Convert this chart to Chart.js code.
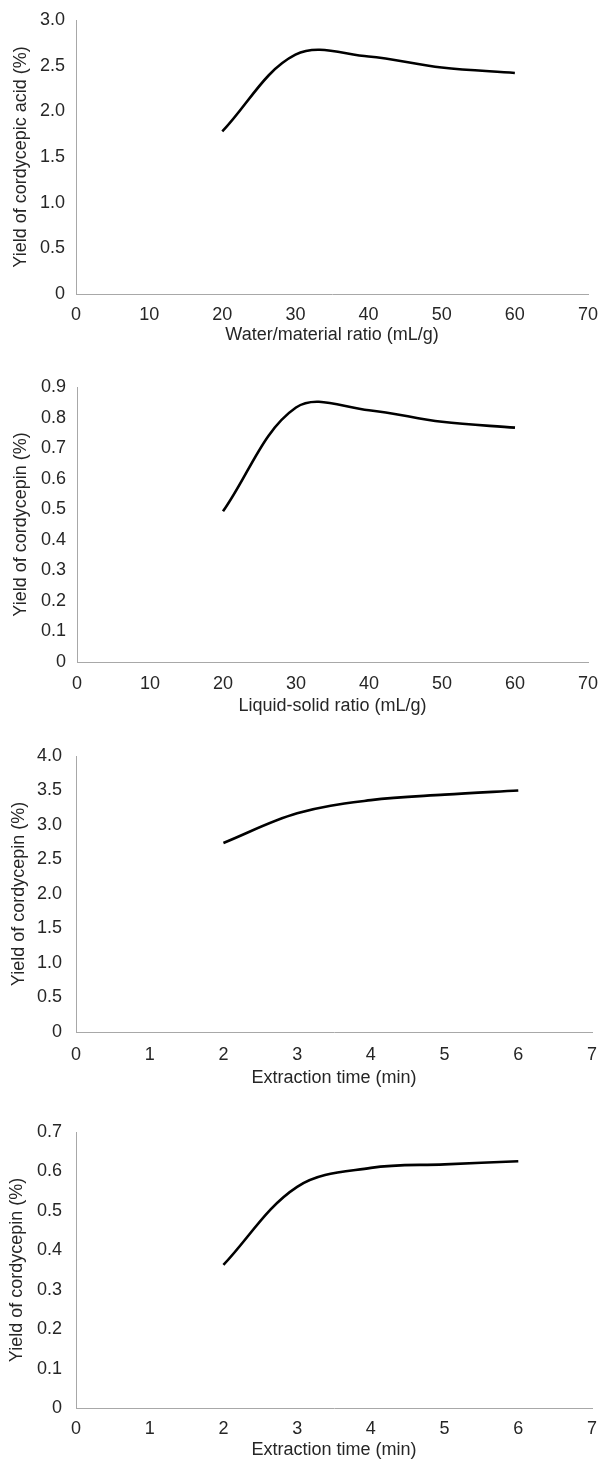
<!DOCTYPE html>
<html>
<head>
<meta charset="utf-8">
<script src="https://cdn.jsdelivr.net/npm/chart.js@4/dist/chart.umd.min.js"></script>
<style>
  html, body { margin: 0; padding: 0; background: #fff; }
  body { width: 600px; height: 1461px; position: relative; overflow: hidden; }
  .panel { position: absolute; left: 0; width: 600px; }
  .panel canvas { display: block; }
</style>
</head>
<body>
<div class="panel" id="p1"><canvas id="c1"></canvas></div>
<div class="panel" id="p2"><canvas id="c2"></canvas></div>
<div class="panel" id="p3"><canvas id="c3"></canvas></div>
<div class="panel" id="p4"><canvas id="c4"></canvas></div>
<script>
// Water (liquid) to material ratio, mL/g
const ratioLevels = [20, 30, 40, 50, 60];
// Extraction time, min
const timeLevels = [2, 3, 4, 5, 6];

// Yields (%)
const acidYieldByRatio = [1.78, 2.62, 2.60, 2.48, 2.42];
const cordycepinYieldByRatio = [0.493, 0.833, 0.824, 0.786, 0.767];
const cordycepinYieldByTimeA = [2.74, 3.17, 3.36, 3.44, 3.50];
const cordycepinYieldByTimeB = [0.363, 0.561, 0.609, 0.618, 0.626];

// Axis ranges and steps
const ratioAxis = { min: 0, max: 70, step: 10 };
const timeAxis = { min: 0, max: 7, step: 1 };
const acidAxis = { min: 0, max: 3.0, step: 0.5 };
const cordRatioAxis = { min: 0, max: 0.9, step: 0.1 };
const cordTimeAxisA = { min: 0, max: 4.0, step: 0.5 };
const cordTimeAxisB = { min: 0, max: 0.7, step: 0.1 };

// Axis titles
const xTitles = ['Water/material ratio (mL/g)', 'Liquid-solid ratio (mL/g)', 'Extraction time (min)', 'Extraction time (min)'];
const yTitles = ['Yield of cordycepic acid (%)', 'Yield of cordycepin (%)', 'Yield of cordycepin (%)', 'Yield of cordycepin (%)'];

const FONT = { family: '"Liberation Sans", Arial, Helvetica, sans-serif', size: 18 };
const TEXT = '#262626';
const AXIS = '#a8a8a8';

function fmtY(v) { return v === 0 ? '0' : v.toFixed(1); }

function build(panelId, canvasId, xs, ys, xr, yr, xTitle, yTitle, L) {
  const panel = document.getElementById(panelId);
  panel.style.top = L.top + 'px';
  panel.style.height = L.height + 'px';
  const cv = document.getElementById(canvasId);
  cv.width = 600; cv.height = L.height;
  cv.style.width = '600px'; cv.style.height = L.height + 'px';

  new Chart(cv, {
    type: 'line',
    data: {
      datasets: [{
        data: xs.map((x, i) => ({ x: x, y: ys[i] })),
        borderColor: '#000',
        borderWidth: 2.6,
        pointRadius: 0,
        tension: 0.36,
        fill: false,
        borderCapStyle: 'butt'
      }]
    },
    options: {
      responsive: false,
      animation: false,
      devicePixelRatio: 1,
      layout: { padding: { left: 0, right: 600 - L.right, top: L.areaTop, bottom: 0 } },
      plugins: { legend: { display: false }, tooltip: { enabled: false } },
      scales: {
        x: {
          type: 'linear',
          min: xr.min, max: xr.max,
          afterFit: s => {
            s.height = L.height - L.areaBottom;
            s.paddingLeft = 0; s.paddingRight = 0;
          },
          ticks: { stepSize: xr.step, font: FONT, color: TEXT, padding: L.xPad, maxRotation: 0, autoSkip: false },
          grid: { color: 'rgba(0,0,0,0)', drawTicks: false },
          border: { display: true, color: AXIS, width: 1 },
          title: { display: true, text: xTitle, font: FONT, color: TEXT, padding: { top: 0, bottom: L.xTitlePad } }
        },
        y: {
          type: 'linear',
          min: yr.min, max: yr.max,
          afterFit: s => {
            s.width = L.left;
            s.paddingTop = 0; s.paddingBottom = 0;
          },
          ticks: { stepSize: yr.step, font: FONT, color: TEXT, padding: L.yPad, callback: v => fmtY(v) },
          grid: { color: 'rgba(0,0,0,0)', drawTicks: false },
          border: { display: true, color: AXIS, width: 1 },
          title: { display: true, text: yTitle, font: FONT, color: TEXT, padding: { top: L.yTitlePad, bottom: 0 } }
        }
      }
    }
  });
}

build('p1', 'c1', ratioLevels, acidYieldByRatio, ratioAxis, acidAxis, xTitles[0], yTitles[0],
  { top: 0, height: 365, left: 76, right: 588, areaTop: 20, areaBottom: 294, xPad: 10, xTitlePad: 19, yPad: 11, yTitlePad: 10 });
build('p2', 'c2', ratioLevels, cordycepinYieldByRatio, ratioAxis, cordRatioAxis, xTitles[1], yTitles[1],
  { top: 365, height: 365, left: 77, right: 588, areaTop: 22, areaBottom: 297, xPad: 11, xTitlePad: 13, yPad: 11, yTitlePad: 10 });
build('p3', 'c3', timeLevels, cordycepinYieldByTimeA, timeAxis, cordTimeAxisA, xTitles[2], yTitles[2],
  { top: 730, height: 365, left: 76, right: 592, areaTop: 26, areaBottom: 302, xPad: 12, xTitlePad: 6, yPad: 14, yTitlePad: 8 });
build('p4', 'c4', timeLevels, cordycepinYieldByTimeB, timeAxis, cordTimeAxisB, xTitles[3], yTitles[3],
  { top: 1095, height: 366, left: 76, right: 592, areaTop: 37, areaBottom: 313, xPad: 10, xTitlePad: 0, yPad: 14, yTitlePad: 6 });
</script>
</body>
</html>
